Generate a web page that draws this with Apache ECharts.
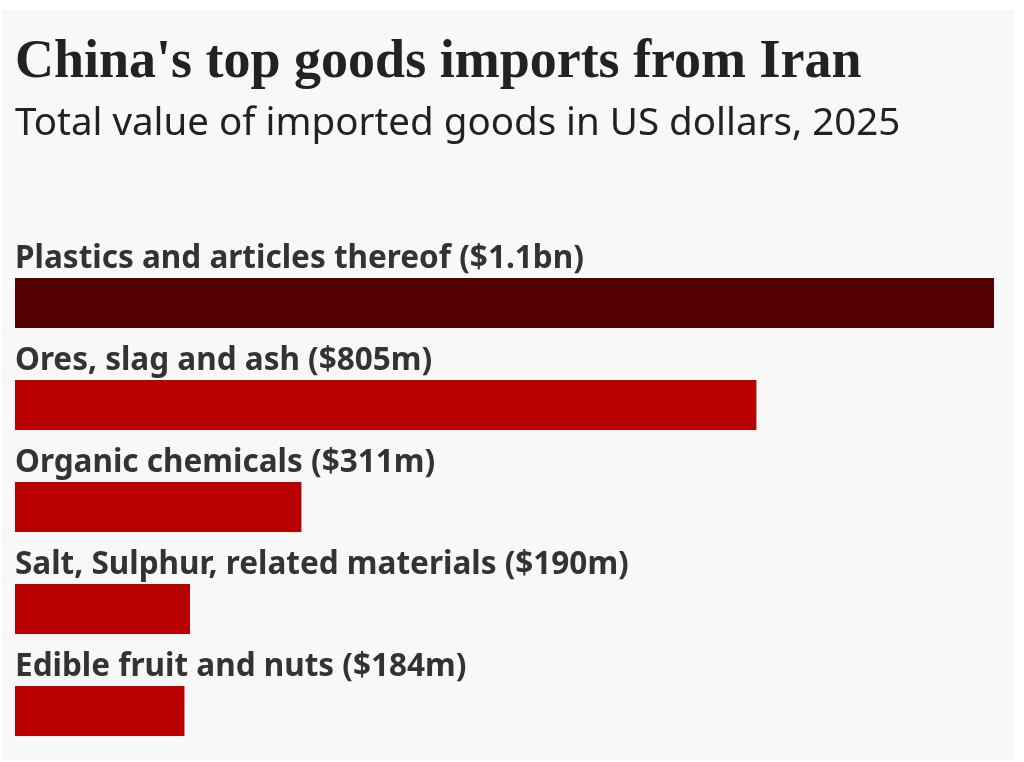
<!DOCTYPE html>
<html>
<head>
<meta charset="utf-8">
<script src="https://cdn.jsdelivr.net/npm/echarts@6/dist/echarts.min.js"></script>
<style>
  html, body { margin: 0; padding: 0; background: #fff; }
  #chart { width: 1024px; height: 762px; }
</style>
</head>
<body>
<div id="chart"></div>
<script>
// goods categories, top to bottom
const categories = [
    'Plastics and articles thereof',
    'Ores, slag and ash',
    'Organic chemicals',
    'Salt, Sulphur, related materials',
    'Edible fruit and nuts'
];
// import value, millions of US dollars (first one, label rounds it)
const values = [1063, 805, 311, 190, 184];
// value text as printed in each label
const valueLabels = ['$1.1bn', '$805m', '$311m', '$190m', '$184m'];

const chart = echarts.init(document.getElementById('chart'));

const option = {
    backgroundColor: '#ffffff',
    animation: false,
    graphic: [
        {
            type: 'rect',
            z: -10,
            shape: { x: 2, y: 10, width: 1012, height: 750 },
            style: { fill: '#f8f8f8' }
        },
        {
            type: 'text',
            left: 15,
            top: 36,
            style: {
                text: "China's top goods imports from Iran",
                font: 'bold 54px "Liberation Serif"',
                fill: '#222222'
            }
        },
        {
            type: 'text',
            left: 15,
            top: 105,
            style: {
                text: 'Total value of imported goods in US dollars, 2025',
                font: '38.5px "Noto Sans"',
                fill: '#222222'
            }
        }
    ],
    grid: { left: 15, width: 979, top: 252, height: 510 },
    xAxis: {
        type: 'value',
        min: 0,
        max: 'dataMax',
        show: false
    },
    yAxis: {
        type: 'category',
        data: categories,
        inverse: true,
        show: false
    },
    series: [
        {
            type: 'bar',
            barWidth: 50,
            data: values.map((v, i) => ({
                value: v,
                itemStyle: { color: i === 0 ? '#550003' : '#b80000' }
            })),
            label: {
                show: true,
                position: [0, -3],
                verticalAlign: 'bottom',
                align: 'left',
                formatter: p => categories[p.dataIndex] + ' (' + valueLabels[p.dataIndex] + ')',
                fontFamily: 'Noto Sans',
                fontWeight: 'bold',
                fontSize: 31.5,
                color: '#333333'
            }
        }
    ]
};

chart.setOption(option);
</script>
</body>
</html>
